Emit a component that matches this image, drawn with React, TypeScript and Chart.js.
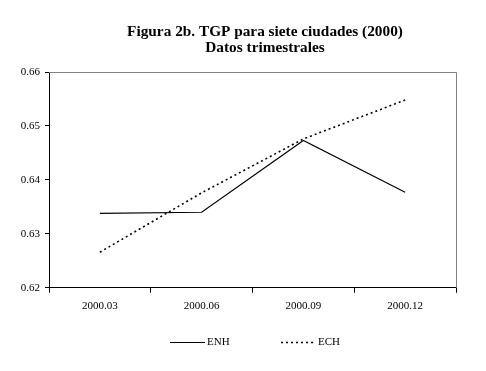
import React, { useEffect, useRef } from "react";
import { Chart, registerables } from "chart.js";

Chart.register(...registerables);

const titleLines = ["Figura 2b. TGP para siete ciudades (2000)", "Datos trimestrales"];
const categories = ["2000.03", "2000.06", "2000.09", "2000.12"];
const enhValues = [0.6338, 0.634, 0.6473, 0.6377];
const echValues = [0.6266, 0.6376, 0.6476, 0.6548];
const seriesLabels = ["ENH", "ECH"];
const yMin = 0.62;
const yMax = 0.66;
const yStep = 0.01;

const SERIF = "'Liberation Serif', 'Times New Roman', serif";

const framePlugin = {
  id: "frameAndExtras",
  afterDatasetsDraw(chart: any) {
    const { ctx, chartArea } = chart;
    const { left, right, top, bottom } = chartArea;
    ctx.save();
    ctx.strokeStyle = "#808080";
    ctx.lineWidth = 1;
    ctx.beginPath();
    ctx.moveTo(left, top + 0.5);
    ctx.lineTo(right + 0.5, top + 0.5);
    ctx.lineTo(right + 0.5, bottom);
    ctx.stroke();
    ctx.restore();
  },
  afterDraw(chart: any) {
    const { ctx } = chart;
    ctx.save();
    // title
    ctx.fillStyle = "#000";
    ctx.font = `bold 15.3px ${SERIF}`;
    ctx.textAlign = "center";
    ctx.textBaseline = "middle";
    ctx.fillText(titleLines[0], 265, 32);
    ctx.fillText(titleLines[1], 265, 48);

    // legend
    ctx.font = `11px ${SERIF}`;
    ctx.textAlign = "left";
    const ly = 342;
    const items = chart.data.datasets.map((ds: any) => ds);
    const starts = [170, 281];
    items.forEach((ds: any, i: number) => {
      const x0 = starts[i];
      ctx.beginPath();
      ctx.strokeStyle = ds.borderColor;
      ctx.lineWidth = ds.borderWidth;
      ctx.setLineDash(ds.borderDash || []);
      ctx.moveTo(x0, ly + 0.5);
      ctx.lineTo(x0 + 35, ly + 0.5);
      ctx.stroke();
      ctx.setLineDash([]);
      ctx.fillStyle = "#000";
      ctx.fillText(ds.label, x0 + 37, ly);
    });
    ctx.restore();
  },
};

export default function App() {
  const canvasRef = useRef<HTMLCanvasElement | null>(null);

  useEffect(() => {
    if (!canvasRef.current) return;
    const chart = new Chart(canvasRef.current, {
      type: "line",
      data: {
        labels: categories,
        datasets: [
          {
            label: seriesLabels[0],
            data: enhValues,
            borderColor: "#000000",
            backgroundColor: "#000000",
            borderWidth: 1.2,
            pointRadius: 0,
            tension: 0,
          },
          {
            label: seriesLabels[1],
            data: echValues,
            borderColor: "#000000",
            backgroundColor: "#000000",
            borderWidth: 1.6,
            borderDash: [2, 3],
            pointRadius: 0,
            tension: 0,
          },
        ],
      },
      options: {
        animation: false,
        responsive: false,
        maintainAspectRatio: false,
        layout: { padding: { left: 0, right: 30, top: 72, bottom: 51 } },
        plugins: {
          legend: { display: false },
          title: { display: false },
          tooltip: { enabled: false },
        },
        scales: {
          x: {
            offset: true,
            grid: {
              offset: true,
              drawOnChartArea: false,
              drawTicks: true,
              tickLength: 5,
              color: "#000",
            },
            border: { color: "#000", width: 1 },
            ticks: {
              color: "#000",
              font: { family: SERIF, size: 11 },
              padding: 7,
              maxRotation: 0,
            },
          },
          y: {
            min: yMin,
            max: yMax,
            grid: {
              drawOnChartArea: false,
              drawTicks: true,
              tickLength: 4,
              color: "#000",
            },
            border: { color: "#000", width: 1 },
            ticks: {
              stepSize: yStep,
              color: "#000",
              font: { family: SERIF, size: 11 },
              padding: 5,
              callback: (v: any) => Number(v).toFixed(2),
            },
            afterFit: (scale: any) => {
              scale.width = 49;
            },
          },
        },
      },
      plugins: [framePlugin],
    });
    return () => chart.destroy();
  }, []);

  return (
    <div style={{ position: "absolute", left: 0, top: 0, width: 486, height: 371, background: "#fff" }}>
      <canvas ref={canvasRef} width={486} height={371} style={{ width: 486, height: 371, display: "block" }} />
    </div>
  );
}
